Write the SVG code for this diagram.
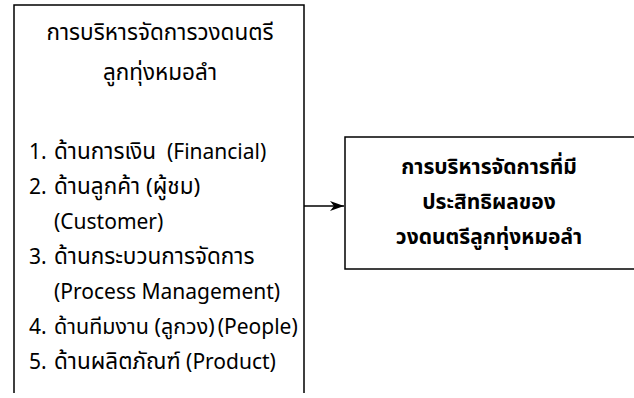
<svg xmlns="http://www.w3.org/2000/svg" width="634" height="398" viewBox="0 0 634 398">
<style>
.box{fill:#fff;stroke:#000;stroke-width:1.5}
text{font-family:"Noto Sans","Noto Sans Thai","DejaVu Sans",sans-serif;font-size:21px;fill:#000}
.th{font-size:22.5px}
.c{text-anchor:middle}
.b{font-weight:bold;font-size:21px}
.conn{stroke:#000;stroke-width:1.3;fill:none}
</style>
<defs>
<marker id="ah" markerWidth="14" markerHeight="10" refX="14" refY="5" orient="auto" markerUnits="userSpaceOnUse">
<path d="M0,0 L14,5 L0,10 L4,5 Z" fill="#000"/>
</marker>
</defs>
<g id="node-left">
<path class="box" d="M14,393 V5 H304 V393"/>
<text class="c th" x="160" y="40">การบริหารจัดการวงดนตรี</text>
<text class="c th" x="160" y="80">ลูกทุ่งหมอลำ</text>
<text x="29" y="159" xml:space="preserve">1.<tspan class="th" x="54">ด้านการเงิน</tspan>  (Financial)</text>
<text x="29" y="194">2.<tspan class="th" x="54">ด้านลูกค้า (ผู้ชม)</tspan></text>
<text x="54" y="229">(Customer)</text>
<text x="29" y="264">3.<tspan class="th" x="54">ด้านกระบวนการจัดการ</tspan></text>
<text x="54" y="299">(Process Management)</text>
<text x="29" y="334">4.<tspan x="54" style="font-size:21.5px">ด้านทีมงาน (ลูกวง)</tspan><tspan dx="3">(People)</tspan></text>
<text x="29" y="369">5.<tspan class="th" x="54">ด้านผลิตภัณฑ์</tspan> (Product)</text>
</g>
<g id="node-right">
<rect class="box" x="345" y="137" width="300" height="132"/>
<text class="c b" x="489" y="174">การบริหารจัดการที่มี</text>
<text class="c b" x="489" y="209">ประสิทธิผลของ</text>
<text class="c b" x="489" y="244">วงดนตรีลูกทุ่งหมอลำ</text>
</g>
<g id="connectors">
<line class="conn" x1="304" y1="206" x2="344" y2="206" marker-end="url(#ah)"/>
</g>
</svg>
